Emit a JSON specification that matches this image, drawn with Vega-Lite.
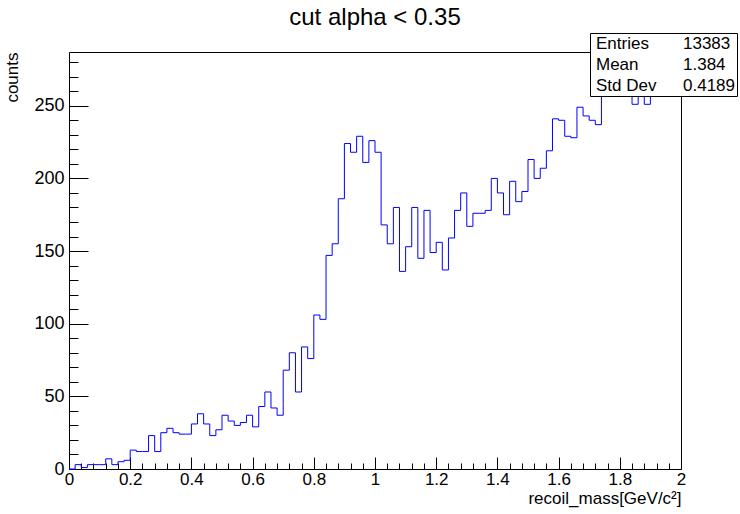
{
  "$schema": "https://vega.github.io/schema/vega-lite/v6.json",
  "width": 612,
  "height": 417,
  "autosize": {"type": "none"},
  "padding": {"left": 69, "top": 52, "right": 59, "bottom": 45},
  "background": "white",
  "title": {"text": "cut alpha < 0.35", "fontSize": 24, "fontWeight": "normal", "font": "Liberation Sans", "anchor": "middle", "baseline": "alphabetic", "offset": -16, "color": "black"},
  "config": {"font": "Liberation Sans", "view": {"stroke": "black", "strokeWidth": 1}},
  "layer": [
    {
      "data": {"values": [
        {"mass": 0.00, "counts": 0}, {"mass": 0.02, "counts": 3}, {"mass": 0.04, "counts": 1}, {"mass": 0.06, "counts": 3}, {"mass": 0.08, "counts": 3},
        {"mass": 0.10, "counts": 3}, {"mass": 0.12, "counts": 7}, {"mass": 0.14, "counts": 3}, {"mass": 0.16, "counts": 5}, {"mass": 0.18, "counts": 6},
        {"mass": 0.20, "counts": 13}, {"mass": 0.22, "counts": 12}, {"mass": 0.24, "counts": 12}, {"mass": 0.26, "counts": 23}, {"mass": 0.28, "counts": 12},
        {"mass": 0.30, "counts": 25}, {"mass": 0.32, "counts": 28}, {"mass": 0.34, "counts": 25}, {"mass": 0.36, "counts": 24}, {"mass": 0.38, "counts": 24},
        {"mass": 0.40, "counts": 31}, {"mass": 0.42, "counts": 38}, {"mass": 0.44, "counts": 31}, {"mass": 0.46, "counts": 23}, {"mass": 0.48, "counts": 27},
        {"mass": 0.50, "counts": 37}, {"mass": 0.52, "counts": 33}, {"mass": 0.54, "counts": 30}, {"mass": 0.56, "counts": 32}, {"mass": 0.58, "counts": 37},
        {"mass": 0.60, "counts": 29}, {"mass": 0.62, "counts": 43}, {"mass": 0.64, "counts": 53}, {"mass": 0.66, "counts": 42}, {"mass": 0.68, "counts": 37},
        {"mass": 0.70, "counts": 68}, {"mass": 0.72, "counts": 80}, {"mass": 0.74, "counts": 53}, {"mass": 0.76, "counts": 84}, {"mass": 0.78, "counts": 76},
        {"mass": 0.80, "counts": 106}, {"mass": 0.82, "counts": 103}, {"mass": 0.84, "counts": 147}, {"mass": 0.86, "counts": 155}, {"mass": 0.88, "counts": 186},
        {"mass": 0.90, "counts": 224}, {"mass": 0.92, "counts": 218}, {"mass": 0.94, "counts": 229}, {"mass": 0.96, "counts": 211}, {"mass": 0.98, "counts": 226},
        {"mass": 1.00, "counts": 218}, {"mass": 1.02, "counts": 168}, {"mass": 1.04, "counts": 155}, {"mass": 1.06, "counts": 180}, {"mass": 1.08, "counts": 136},
        {"mass": 1.10, "counts": 153}, {"mass": 1.12, "counts": 180}, {"mass": 1.14, "counts": 145}, {"mass": 1.16, "counts": 178}, {"mass": 1.18, "counts": 149},
        {"mass": 1.20, "counts": 156}, {"mass": 1.22, "counts": 137}, {"mass": 1.24, "counts": 159}, {"mass": 1.26, "counts": 178}, {"mass": 1.28, "counts": 190},
        {"mass": 1.30, "counts": 167}, {"mass": 1.32, "counts": 176}, {"mass": 1.34, "counts": 176}, {"mass": 1.36, "counts": 178}, {"mass": 1.38, "counts": 200},
        {"mass": 1.40, "counts": 190}, {"mass": 1.42, "counts": 175}, {"mass": 1.44, "counts": 198}, {"mass": 1.46, "counts": 184}, {"mass": 1.48, "counts": 191},
        {"mass": 1.50, "counts": 213}, {"mass": 1.52, "counts": 200}, {"mass": 1.54, "counts": 207}, {"mass": 1.56, "counts": 219}, {"mass": 1.58, "counts": 241},
        {"mass": 1.60, "counts": 240}, {"mass": 1.62, "counts": 229}, {"mass": 1.64, "counts": 228}, {"mass": 1.66, "counts": 249}, {"mass": 1.68, "counts": 243},
        {"mass": 1.70, "counts": 240}, {"mass": 1.72, "counts": 237}, {"mass": 1.74, "counts": 257}, {"mass": 1.76, "counts": 271}, {"mass": 1.78, "counts": 260},
        {"mass": 1.80, "counts": 257}, {"mass": 1.82, "counts": 275}, {"mass": 1.84, "counts": 251}, {"mass": 1.86, "counts": 262}, {"mass": 1.88, "counts": 251},
        {"mass": 1.90, "counts": 268}, {"mass": 1.92, "counts": 260}, {"mass": 1.94, "counts": 264}, {"mass": 1.96, "counts": 261}, {"mass": 1.98, "counts": 260}
      ]},
      "mark": {"type": "line", "interpolate": "step-after", "color": "#0000ff", "strokeWidth": 1},
      "encoding": {
        "x": {
          "field": "mass", "type": "quantitative",
          "scale": {"domain": [0, 2], "nice": false, "zero": false},
          "axis": {
            "values": [0, 0.04, 0.08, 0.12, 0.16, 0.2, 0.24, 0.28, 0.32, 0.36, 0.4, 0.44, 0.48, 0.52, 0.56, 0.6, 0.64, 0.68, 0.72, 0.76, 0.8, 0.84, 0.88, 0.92, 0.96, 1, 1.04, 1.08, 1.12, 1.16, 1.2, 1.24, 1.28, 1.32, 1.36, 1.4, 1.44, 1.48, 1.52, 1.56, 1.6, 1.64, 1.68, 1.72, 1.76, 1.8, 1.84, 1.88, 1.92, 1.96, 2],
            "tickSize": {"condition": {"test": "abs(datum.value*5 - round(datum.value*5)) < 0.001", "value": -12}, "value": -6},
            "labelExpr": "abs(datum.value*5 - round(datum.value*5)) < 0.001 ? format(datum.value, '~g') : ''",
            "labelPadding": 14,
            "labelFontSize": 17,
            "labelColor": "black",
            "labelOverlap": false,
            "labelFlush": false,
            "labelBound": false,
            "tickColor": "black",
            "tickWidth": 1,
            "domain": false,
            "grid": false,
            "title": "recoil_mass[GeV/c²]",
            "titleAnchor": "end",
            "titleFontSize": 17,
            "titleFontWeight": "normal",
            "titleColor": "black",
            "titlePadding": -3
          }
        },
        "y": {
          "field": "counts", "type": "quantitative",
          "scale": {"domain": [0, 287], "nice": false, "zero": true},
          "axis": {
            "values": [0, 10, 20, 30, 40, 50, 60, 70, 80, 90, 100, 110, 120, 130, 140, 150, 160, 170, 180, 190, 200, 210, 220, 230, 240, 250, 260, 270, 280],
            "tickSize": {"condition": {"test": "datum.value % 50 === 0", "value": -19}, "value": -9},
            "labelExpr": "datum.value % 50 === 0 ? datum.label : ''",
            "labelPadding": 24,
            "labelFontSize": 18,
            "labelColor": "black",
            "labelOverlap": false,
            "labelFlush": false,
            "labelBound": false,
            "tickColor": "black",
            "tickWidth": 1,
            "domain": false,
            "grid": false,
            "title": "counts",
            "titleAnchor": "end",
            "titleFontSize": 17,
            "titleFontWeight": "normal",
            "titleColor": "black",
            "titlePadding": 12
          }
        }
      }
    },
    {
      "data": {"values": [
        {"stat": "Entries", "value": "13383"},
        {"stat": "Mean", "value": "1.384"},
        {"stat": "Std Dev", "value": "0.4189"}
      ]},
      "transform": [{"fold": ["stat", "value"], "as": ["col", "text"]}],
      "mark": {"type": "point", "opacity": 0},
      "encoding": {
        "color": {
          "field": "text", "type": "nominal",
          "sort": ["Entries", "Mean", "Std Dev", "13383", "1.384", "0.4189"],
          "scale": {"range": ["black"]},
          "legend": {
            "orient": "none",
            "legendX": 521,
            "legendY": -19,
            "title": null,
            "columns": 2,
            "columnPadding": 22,
            "rowPadding": 3,
            "padding": 2,
            "symbolSize": 0,
            "symbolOpacity": 0,
            "symbolStrokeWidth": 0,
            "labelOffset": -13,
            "labelFontSize": 17,
            "labelColor": "black",
            "labelLimit": 200,
            "strokeColor": "black",
            "fillColor": "white",
            "cornerRadius": 0,
            "zindex": 1
          }
        }
      }
    }
  ]
}
